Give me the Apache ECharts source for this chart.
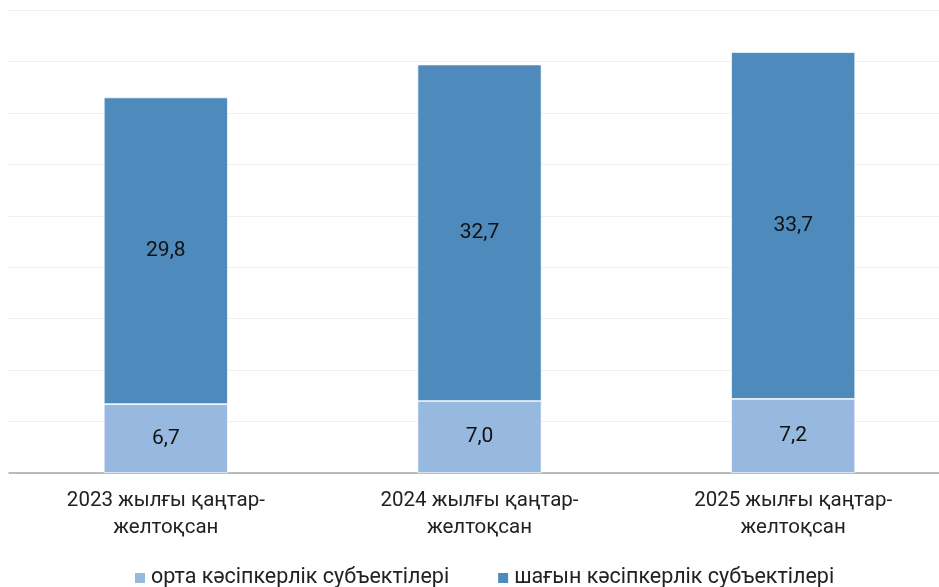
<!DOCTYPE html>
<html>
<head>
<meta charset="utf-8">
<script src="https://cdn.jsdelivr.net/npm/echarts@6/dist/echarts.min.js"></script>
<style>
  html, body { margin: 0; padding: 0; background: #fff; }
  #chart { width: 939px; height: 587px; }
</style>
</head>
<body>
<div id="chart"></div>
<script>
const categories = ["2023 жылғы қаңтар-\nжелтоқсан", "2024 жылғы қаңтар-\nжелтоқсан", "2025 жылғы қаңтар-\nжелтоқсан"];
const seriesNames = ["орта кәсіпкерлік субъектілері", "шағын кәсіпкерлік субъектілері"];
const mediumValues = [6.7, 7.0, 7.2];
const smallValues = [29.8, 32.7, 33.7];

const fmt = (p) => p.value.toFixed(1).replace(".", ",");

const chart = echarts.init(document.getElementById("chart"));
chart.setOption({
  animation: false,
  textStyle: { fontFamily: "Roboto" },
  grid: { left: 9, width: 941, top: 10, height: 463, outerBoundsMode: "none", containLabel: false },
  legend: {
    top: 562,
    left: 128,
    itemWidth: 12,
    itemHeight: 12,
    itemGap: 47,
    icon: "rect",
    textStyle: { fontSize: 21.5, color: "#222", fontFamily: "Roboto" },
    data: seriesNames
  },
  xAxis: {
    type: "category",
    data: categories,
    axisLine: { lineStyle: { color: "#a6a6a6", width: 1.5 } },
    axisTick: { show: false },
    axisLabel: { fontSize: 20.5, color: "#222", lineHeight: 27, margin: 14, fontFamily: "Roboto" }
  },
  yAxis: {
    type: "value",
    min: 0,
    max: 45,
    interval: 5,
    axisLabel: { show: false },
    axisLine: { show: false },
    axisTick: { show: false },
    splitLine: { lineStyle: { color: "#efefef", width: 1 } }
  },
  series: [
    {
      name: seriesNames[0],
      type: "bar",
      stack: "total",
      barWidth: 124,
      data: mediumValues,
      itemStyle: { color: "#97b9df", borderColor: "#fff", borderWidth: 0.7 },
      label: { show: true, position: "inside", formatter: fmt, fontSize: 21, color: "#111" }
    },
    {
      name: seriesNames[1],
      type: "bar",
      stack: "total",
      barWidth: 124,
      data: smallValues,
      itemStyle: { color: "#4f8abd", borderColor: "#fff", borderWidth: 0.7 },
      label: { show: true, position: "inside", formatter: fmt, fontSize: 21, color: "#111" }
    }
  ]
});
</script>
</body>
</html>
